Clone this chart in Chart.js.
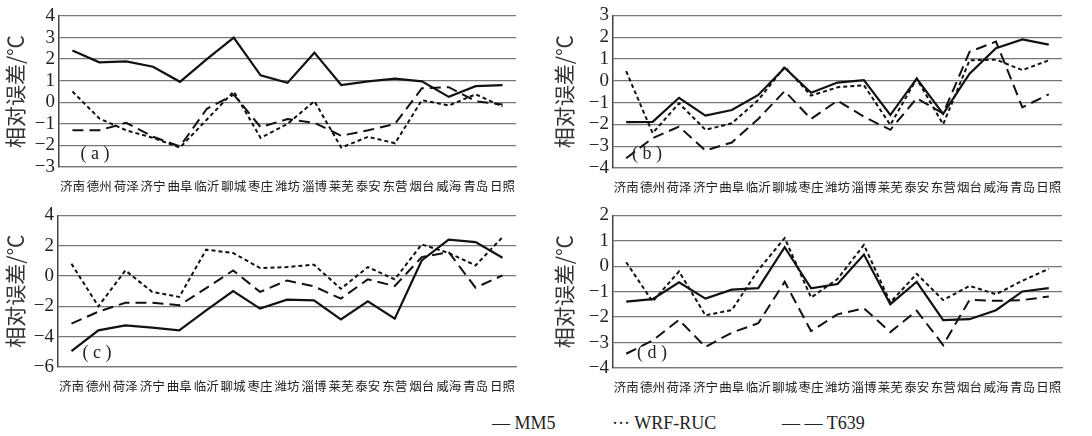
<!DOCTYPE html>
<html>
<head>
<meta charset="utf-8">
<script src="https://cdn.jsdelivr.net/npm/chart.js@4.4.0/dist/chart.umd.min.js"></script>
<style>
    html, body { margin: 0; padding: 0; background: #fff; }
    #page { position: relative; width: 1092px; height: 436px; overflow: hidden; }
    .panel { position: absolute; width: 546px; height: 200px; }
    .tag { position: absolute; font: 18px "Liberation Serif", "Times New Roman", serif; color: #222; transform: translate(-50%, -50%); white-space: nowrap; }
    .legend { position: absolute; top: 413px; font: 18px "Liberation Serif", "Times New Roman", serif; color: #222; white-space: nowrap; }
</style>
</head>
<body>
<div id="page">
    <div class="panel" style="left:0;top:0"><canvas id="chart-a"></canvas></div>
    <div class="panel" style="left:546px;top:0"><canvas id="chart-b"></canvas></div>
    <div class="panel" style="left:0;top:200px"><canvas id="chart-c"></canvas></div>
    <div class="panel" style="left:546px;top:200px"><canvas id="chart-d"></canvas></div>
    <div class="tag" style="left:95px;top:153px">( a )</div>
    <div class="tag" style="left:647px;top:153px">( b )</div>
    <div class="tag" style="left:97px;top:352px">( c )</div>
    <div class="tag" style="left:652px;top:352px">( d )</div>
    <div class="legend" style="left:492px">— MM5</div>
    <div class="legend" style="left:612px">··· WRF-RUC</div>
    <div class="legend" style="left:782px">— — T639</div>
</div>
<script>
// stations along the x axis
const stations = ['济南', '德州', '荷泽', '济宁', '曲阜', '临沂', '聊城', '枣庄', '潍坊',
    '淄博', '莱芜', '泰安', '东营', '烟台', '威海', '青岛', '日照'];

// (a) relative error, °C
const mm5A = [2.4, 1.85, 1.9, 1.65, 0.95, 2.0, 3.0, 1.25, 0.9, 2.3, 0.8, 0.97, 1.1, 0.97, 0.25, 0.75, 0.8];
const wrfA = [0.5, -0.75, -1.3, -1.65, -2.1, -0.8, 0.5, -1.65, -1.0, 0.05, -2.1, -1.6, -1.9, 0.1, -0.15, 0.37, -0.2];
const t639A = [-1.3, -1.3, -0.95, -1.6, -2.05, -0.3, 0.35, -1.15, -0.78, -0.95, -1.55, -1.3, -1.0, 0.65, 0.7, 0.05, -0.1];

// (b)
const mm5B = [-1.9, -1.88, -0.78, -1.6, -1.34, -0.65, 0.6, -0.55, -0.08, 0.03, -1.57, 0.1, -1.52, 0.33, 1.5, 1.9, 1.66];
const wrfB = [0.44, -2.4, -1.03, -2.25, -1.95, -0.88, 0.64, -0.68, -0.3, -0.2, -2.02, 0.1, -2.0, 0.94, 0.97, 0.49, 0.94];
const t639B = [-3.55, -2.63, -2.1, -3.2, -2.83, -1.75, -0.47, -1.75, -0.91, -1.65, -2.25, -0.8, -1.5, 1.33, 1.8, -1.22, -0.62];

// (c)
const mm5C = [-4.95, -3.58, -3.25, -3.4, -3.58, -2.26, -1.0, -2.15, -1.56, -1.6, -2.86, -1.67, -2.81, 1.03, 2.4, 2.24, 1.21];
const wrfC = [0.81, -2.0, 0.37, -1.05, -1.38, 1.74, 1.52, 0.53, 0.59, 0.75, -0.84, 0.59, -0.22, 2.09, 1.52, 0.7, 2.57];
const t639C = [-3.14, -2.35, -1.76, -1.76, -1.93, -0.8, 0.37, -1.05, -0.29, -0.68, -1.49, -0.22, -0.66, 1.25, 1.58, -0.77, 0.04];

// (d)
const mm5D = [-1.39, -1.29, -0.63, -1.27, -0.92, -0.86, 0.75, -0.87, -0.7, 0.46, -1.49, -0.61, -2.12, -2.08, -1.73, -0.99, -0.86];
const wrfD = [0.16, -1.39, -0.2, -1.93, -1.72, -0.15, 1.11, -1.23, -0.5, 0.84, -1.42, -0.3, -1.33, -0.77, -1.1, -0.57, -0.1];
const t639D = [-3.44, -2.92, -2.11, -3.17, -2.61, -2.24, -0.61, -2.55, -1.89, -1.65, -2.59, -1.75, -3.1, -1.32, -1.36, -1.33, -1.19];

// y axis ranges [min, max, step]
const rangeA = [-3, 4, 1];
const rangeB = [-4, 3, 1];
const rangeC = [-6, 4, 2];
const rangeD = [-4, 2, 1];

const yTitle = '相对误差/℃';

/**
 * Build one panel
 */
function makePanel(id, mm5, wrf, t639, range, box) {
    const ctx = document.getElementById(id).getContext('2d');
    return new Chart(ctx, {
        type: 'line',
        data: {
            labels: stations,
            datasets: [
                { label: 'MM5', data: mm5, borderColor: '#111', borderWidth: 2.2, pointRadius: 0, tension: 0 },
                { label: 'WRF-RUC', data: wrf, borderColor: '#111', borderWidth: 2, borderDash: [4, 3], pointRadius: 0, tension: 0 },
                { label: 'T639', data: t639, borderColor: '#111', borderWidth: 2, borderDash: [11, 6], pointRadius: 0, tension: 0 }
            ]
        },
        options: {
            responsive: false,
            animation: false,
            layout: { padding: { top: box.top, right: 30, bottom: 0, left: 0 } },
            plugins: { legend: { display: false }, tooltip: { enabled: false } },
            scales: {
                x: {
                    offset: true,
                    grid: { display: false, drawTicks: false },
                    border: { display: true, color: '#777', width: 1.3 },
                    ticks: {
                        color: '#222', padding: 12, maxRotation: 0, autoSkip: false,
                        font: { family: '"Noto Sans CJK SC", sans-serif', size: 12.5 }
                    },
                    afterFit: s => { s.height = 200 - box.bottom; }
                },
                y: {
                    min: range[0], max: range[1],
                    grid: { color: '#777', lineWidth: 1.3, drawTicks: false },
                    border: { display: true, color: '#444', width: 1.5 },
                    ticks: {
                        stepSize: range[2], color: '#222', padding: 4, autoSkip: false,
                        font: { family: '"Liberation Serif", "Times New Roman", serif', size: 19 },
                        callback: v => String(v).replace('-', '−')
                    },
                    title: {
                        display: true, text: yTitle, color: '#333',
                        padding: { top: box.titlePad, bottom: 0 },
                        font: { family: '"Noto Sans CJK SC", sans-serif', size: 21 }
                    },
                    afterFit: s => { s.width = box.left; }
                }
            }
        }
    });
}

function setSize(id) {
    const c = document.getElementById(id);
    c.width = 546;
    c.height = 200;
    c.style.width = '546px';
    c.style.height = '200px';
}

['chart-a', 'chart-b', 'chart-c', 'chart-d'].forEach(setSize);

makePanel('chart-a', mm5A, wrfA, t639A, rangeA, { left: 59, top: 16, bottom: 167, titlePad: 2 });
makePanel('chart-b', mm5B, wrfB, t639B, rangeB, { left: 67, top: 15, bottom: 168, titlePad: 5 });
makePanel('chart-c', mm5C, wrfC, t639C, rangeC, { left: 58, top: 15, bottom: 167, titlePad: 2 });
makePanel('chart-d', mm5D, wrfD, t639D, rangeD, { left: 67, top: 15, bottom: 168, titlePad: 5 });
</script>
</body>
</html>
